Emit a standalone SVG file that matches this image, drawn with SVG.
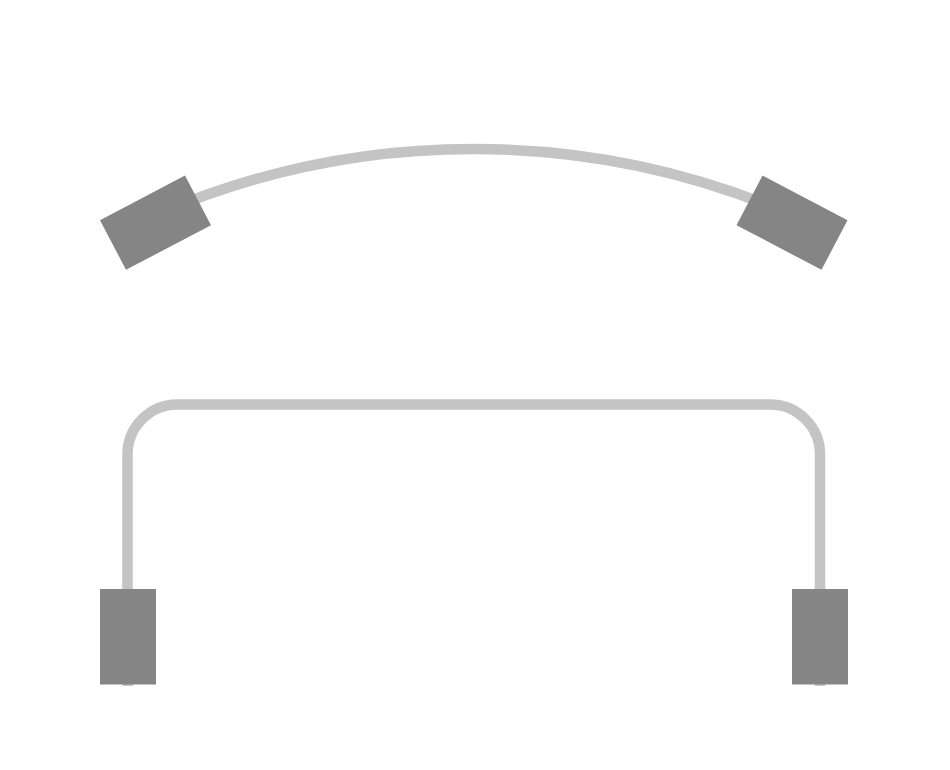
<svg xmlns="http://www.w3.org/2000/svg" width="950" height="770" viewBox="0 0 950 770">
<style>
.wire{fill:none;stroke:#c4c4c4;stroke-width:10.5}
.plug{fill:#858585}
</style>
<rect width="950" height="770" fill="#ffffff"/>
<g id="connectors">
<path class="wire" d="M155.5 215 A800 800 0 0 1 792 215"/>
<path class="wire" d="M127.5 686 V454.5 A50 50 0 0 1 177.5 404.5 H770 A50 50 0 0 1 820 454.5 V686"/>
</g>
<g id="top-left">
<rect class="plug" x="-28" y="-48" width="56" height="96" transform="translate(155.5,222.7) rotate(62.3)"/>
</g>
<g id="top-right">
<rect class="plug" x="-28" y="-48" width="56" height="96" transform="translate(792,222.7) rotate(-62.3)"/>
</g>
<g id="bottom-left">
<rect class="plug" x="100" y="589" width="56" height="95.5"/>
</g>
<g id="bottom-right">
<rect class="plug" x="792" y="589" width="56" height="95.5"/>
</g>
</svg>
